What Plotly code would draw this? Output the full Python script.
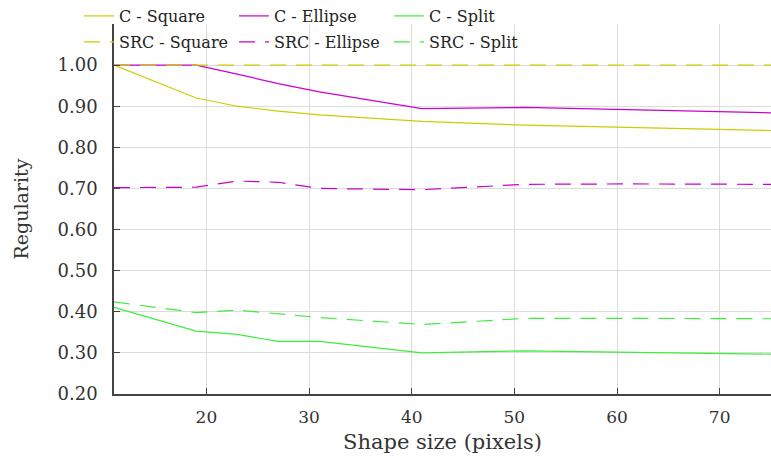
import plotly.graph_objects as go

x_vals = [11, 19, 23, 27, 31, 41, 51, 61, 75]

c_square = [1.000, 0.920, 0.900, 0.888, 0.879, 0.863, 0.854, 0.848, 0.841]
c_ellipse = [1.000, 1.000, 0.978, 0.955, 0.935, 0.894, 0.897, 0.892, 0.884]
c_split = [0.411, 0.353, 0.345, 0.328, 0.328, 0.300, 0.305, 0.302, 0.297]
src_square = [1.000, 1.000, 1.000, 1.000, 1.000, 1.000, 1.000, 1.000, 1.000]
src_ellipse = [0.702, 0.703, 0.718, 0.715, 0.700, 0.697, 0.710, 0.711, 0.710]
src_split = [0.424, 0.398, 0.404, 0.395, 0.386, 0.369, 0.384, 0.384, 0.383]

y_ticks = [0.2, 0.3, 0.4, 0.5, 0.6, 0.7, 0.8, 0.9, 1.0]
x_ticks = [20, 30, 40, 50, 60, 70]

YELLOW = "#cccc00"
MAGENTA = "#cc00cc"
GREEN = "#3ded3d"
FONT = "DejaVu Serif"
DASH = "16px,10px"

fig = go.Figure()
series = [
    ("C - Square", c_square, YELLOW, "solid", "legend"),
    ("C - Ellipse", c_ellipse, MAGENTA, "solid", "legend"),
    ("C - Split", c_split, GREEN, "solid", "legend"),
    ("SRC - Square", src_square, YELLOW, DASH, "legend2"),
    ("SRC - Ellipse", src_ellipse, MAGENTA, DASH, "legend2"),
    ("SRC - Split", src_split, GREEN, DASH, "legend2"),
]
for name, ys, col, dash, lg in series:
    fig.add_trace(go.Scatter(x=x_vals, y=ys, mode="lines", name=name,
                             line=dict(color=col, width=1.2, dash=dash),
                             legend=lg))

W, H = 771, 457
legend_common = dict(orientation="h", xanchor="left", yanchor="middle",
                     xref="container", yref="container",
                     bgcolor="rgba(0,0,0,0)", borderwidth=0,
                     font=dict(family=FONT, size=16, color="#222"),
                     entrywidth=110, entrywidthmode="pixels", itemwidth=30)

fig.update_layout(
    width=W, height=H,
    margin=dict(l=114, r=0, t=24, b=63, autoexpand=False),
    paper_bgcolor="white", plot_bgcolor="white",
    font=dict(family=FONT, color="#333"),
    legend=dict(x=79 / W, y=1 - 16 / H, **legend_common),
    legend2=dict(x=79 / W, y=1 - 42 / H, **legend_common),
    xaxis=dict(range=[11, 75], tickvals=x_ticks, ticks="inside", ticklen=6,
               tickcolor="#444", showline=True, linecolor="#444", linewidth=1.5,
               showgrid=True, gridcolor="#dcdcdc", gridwidth=1, zeroline=False,
               ticklabelstandoff=7,
               tickfont=dict(family=FONT, size=17, color="#333"),
               title=dict(text="Shape size (pixels)", standoff=8,
                          font=dict(family=FONT, size=21, color="#333"))),
    yaxis=dict(range=[0.2, 1.1], tickvals=y_ticks, tickformat=".2f",
               ticks="inside", ticklen=6, tickcolor="#444",
               showline=True, linecolor="#444", linewidth=1.5,
               showgrid=True, gridcolor="#dcdcdc", gridwidth=1, zeroline=False,
               ticklabelstandoff=11,
               tickfont=dict(family=FONT, size=18, color="#333"),
               title=dict(text="Regularity", standoff=24,
                          font=dict(family=FONT, size=19, color="#333"))),
)

fig.write_html("out.html", config={"displayModeBar": False},
               post_script="document.body.style.margin='0';")
